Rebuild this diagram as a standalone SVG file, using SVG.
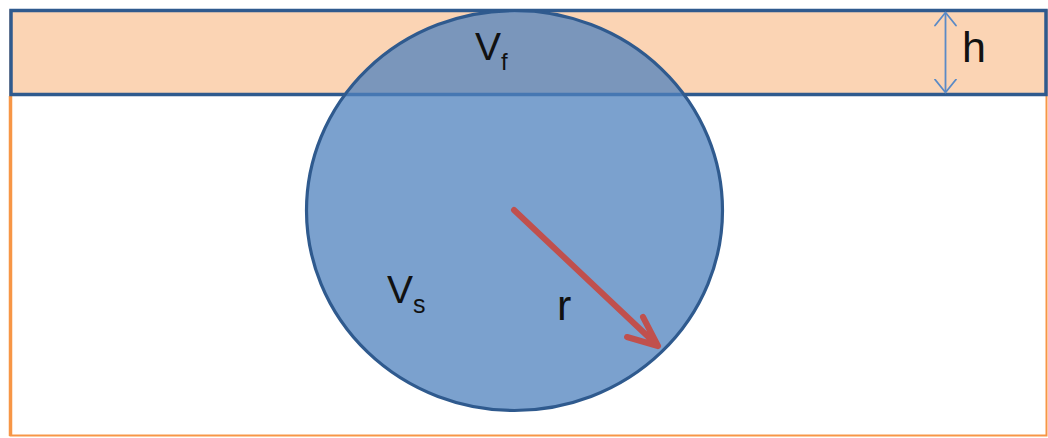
<svg xmlns="http://www.w3.org/2000/svg" width="1048" height="438" viewBox="0 0 1048 438">
<style>
.lbl{font-family:"Liberation Sans",Arial,sans-serif;fill:#111;}
</style>
<defs>
<marker id="vhead" viewBox="0 0 16 24" refX="14" refY="12" markerWidth="16" markerHeight="24" markerUnits="userSpaceOnUse" orient="auto-start-reverse">
<path d="M1,1.5 L14,12 L1,22.5" fill="none" stroke="#5A8AC6" stroke-width="1.8" stroke-linejoin="round" stroke-linecap="round"/>
</marker>
</defs>
<rect width="1048" height="438" fill="#ffffff"/>
<g id="water">
<rect x="10.5" y="10.5" width="1036" height="425" fill="#ffffff" stroke="#F79646" stroke-width="2"/>
<line x1="10.5" y1="96" x2="10.5" y2="436" stroke="#F79646" stroke-width="3.5"/>
</g>
<g id="film">
<rect x="11" y="10.5" width="1035" height="84" fill="#FBD4B4" stroke="#2F5A8E" stroke-width="3.5"/>
</g>
<g id="sphere">
<ellipse cx="514.5" cy="210.5" rx="208" ry="200" fill="#4F81BD" fill-opacity="0.75" stroke="#2F5A8E" stroke-width="3.2"/>
</g>
<g id="connectors">
<line id="h-dim" x1="945.5" y1="12.5" x2="945.5" y2="92.5" stroke="#5A8AC6" stroke-width="1.8" marker-start="url(#vhead)" marker-end="url(#vhead)"/>
<path id="radius" d="M514,210 L658,346 M643,317 L658,346 L627,337" fill="none" stroke="#C0504D" stroke-width="6" stroke-linecap="round" stroke-linejoin="round"/>
</g>
<g id="labels">
<text id="label-vf" class="lbl" x="475" y="60" font-size="39">V<tspan font-size="24" dy="10">f</tspan></text>
<text id="label-vs" class="lbl" x="387" y="303" font-size="39">V<tspan font-size="25" dy="10">s</tspan></text>
<text id="label-r" class="lbl" x="557" y="320" font-size="43">r</text>
<text id="label-h" class="lbl" x="962" y="62" font-size="43">h</text>
</g>
</svg>
